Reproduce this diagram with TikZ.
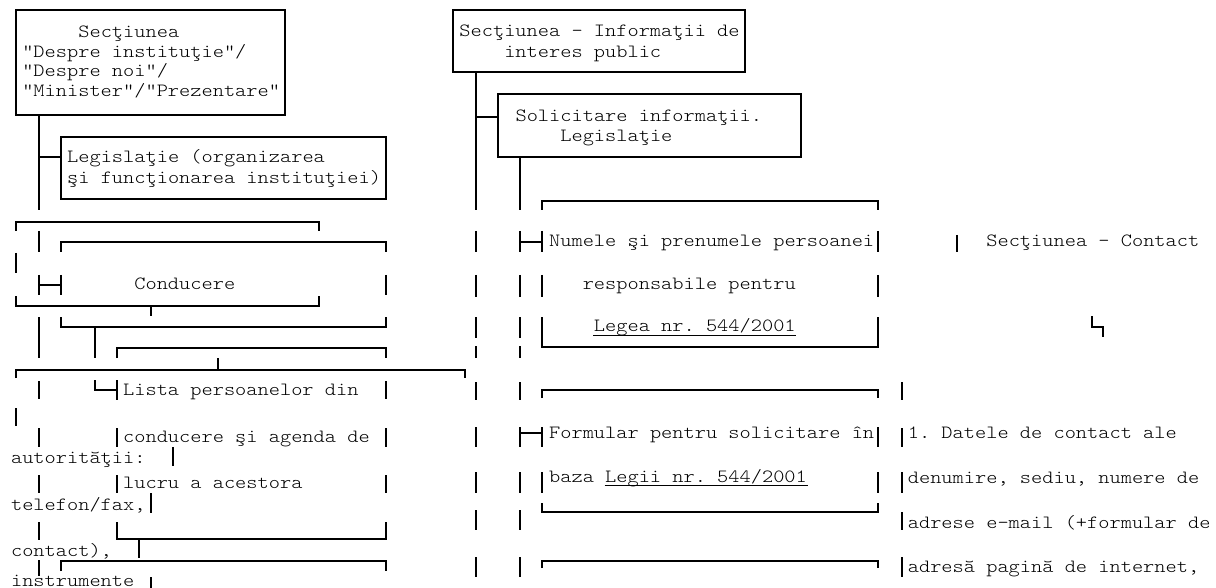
\documentclass[tikz,border=0pt]{standalone}
\usepackage{fontspec}
\setmonofont[FakeStretch=1.1429]{lmmonolt10-regular.otf}
\usepackage{tikz}
\usetikzlibrary{calc}

\begin{document}
\begin{tikzpicture}[x=1pt,y=-1pt,line width=1.3pt,
  txt/.style={font=\ttfamily\fontsize{18.68}{21}\selectfont,inner sep=0pt,anchor=base west},
  uline/.style={line width=1pt}]
\useasboundingbox (0,0) rectangle (1216,588);
				%COLONNE GAUCHE
				\draw (16,10) rectangle (285,115);
				\node[txt] (desp1) at (77.7,37.3) {Secţiunea};
				\node[txt] (desp2) at (21.6,57.3) {"Despre instituţie"/};
				\node[txt] (desp3) at (21.6,77) {"Despre noi"/};
				\node[txt] (desp4) at (21.6,96.8) {"Minister"/"Prezentare"};
				\draw (39,115) -- (39,210) (39,157) -- (61,157);
				\draw (61,137) rectangle (386,199);
				\node[txt] (leg1) at (66.5,162.5) {Legislaţie (organizarea};
				\node[txt] (leg2) at (66.5,184) {şi funcţionarea instituţiei)};
				%CONDUCERE
				\draw (16,231) -- (16,222) -- (319,222) -- (319,231)
					(16,253) -- (16,273)
					(16,296) -- (16,306) -- (319,306) -- (319,296) (151,306) -- (151,316);
				\draw (61,252) -- (61,242) -- (386,242) -- (386,252)
					(61,275) -- (61,295) (386,275) -- (386,295) (39,285) -- (61,285)
					(61,317) -- (61,327) -- (386,327) -- (386,317) (95,327) -- (95,358);
				\node[txt] (cond) at (133.7,290) {Conducere};
				\foreach \a/\b in {231/252,275/295,317/358,381/399,428/447,475/493,522/540,560/576}
					\draw (39,\a) -- (39,\b);
				%LISTA
				\draw (117,358) -- (117,348) -- (386,348) -- (386,358)
					(95,380) -- (95,390) -- (117,390) (117,380) -- (117,400) (386,381) -- (386,399)
					(117,428) -- (117,447) (386,428) -- (386,447) (117,475) -- (117,493) (386,475) -- (386,493)
					(117,522) -- (117,539) -- (386,539) -- (386,522);
				\draw (16,378) -- (16,370) -- (465,370) -- (465,378) (218,370) -- (218,358)
					(16,408) -- (16,426);
				\node[txt] (lista1) at (122.5,395) {Lista persoanelor din};
				\node[txt] (lista2) at (122.5,442) {conducere şi agenda de};
				\node[txt] (lista3) at (122.5,488) {lucru a acestora};
				\draw (61,571) -- (61,561) -- (386,561) -- (386,571);
				%RANDURI RUPTE
				\node[txt] (rup1) at (10.4,463) {autorităţii:};
				\node[txt] (rup2) at (10.4,510) {telefon/fax,};
				\node[txt] (rup3) at (10.4,556) {contact),};
				\node[txt] (rup4) at (10.4,586) {instrumente};
				\draw (173,447) -- (173,466) (151,493) -- (151,513) (139,540) -- (139,558) (151,577) -- (151,588);
				%COLOANA INFORMATII
				\draw (453,10) rectangle (745,72);
				\node[txt] (info1) at (458.8,37) {Secţiunea - Informaţii de};
				\node[txt] (info2) at (503.6,57.5) {interes public};
				\draw (476,72) -- (476,210) (476,117) -- (498,117);
				\draw (498,94) rectangle (801,157);
				\node[txt] (sol1) at (514.9,122) {Solicitare informaţii.};
				\node[txt] (sol2) at (559.7,142) {Legislaţie};
				\draw (520,157) -- (520,210);
				\foreach \a/\b in {231/252,275/297,317/338,346/358,382/400,427/447,472/493,510/530,557/577}
					\draw (476,\a) -- (476,\b) (520,\a) -- (520,\b);
				%RESPONSABIL
				\draw (542,210) -- (542,201) -- (878,201) -- (878,210)
					(520,242) -- (542,242) (542,231) -- (542,252) (878,231) -- (878,252)
					(542,275) -- (542,297) (878,275) -- (878,297)
					(542,317) -- (542,347) -- (878,347) -- (878,317);
				\node[txt] (resp1) at (548.5,247) {Numele şi prenumele persoanei};
				\node[txt] (resp2) at (582.1,290) {responsabile pentru};
				\node[txt] (resp3) at (593.3,331) {Legea nr. 544/2001};
				\draw[uline] ($(resp3.base west)+(0,4)$) -- ($(resp3.base east)+(0,4)$);
				%FORMULAR
				\draw (542,398) -- (542,390) -- (878,390) -- (878,398)
					(520,433) -- (542,433) (542,427) -- (542,447) (878,427) -- (878,447)
					(542,472) -- (542,493) (878,472) -- (878,493)
					(542,503) -- (542,512) -- (878,512) -- (878,503)
					(542,568) -- (542,561) -- (878,561) -- (878,568);
				\node[txt] (form1) at (548.5,438) {Formular pentru solicitare în};
				\node[txt] (form2) at (548.5,482) {baza};
				\node[txt] (form3) at (604.5,482) {Legii nr. 544/2001};
				\draw[uline] ($(form3.base west)+(0,3)$) -- ($(form3.base east)+(0,3)$);
				%CONTACT
				\draw (957,235) -- (957,252)
					(1092,316) -- (1092,327) -- (1103,327) -- (1103,337);
				\node[txt] (cont) at (985.7,247) {Secţiunea - Contact};
				\foreach \a/\b in {382/400,428/447,472/493,512/530,557/577}
					\draw (902,\a) -- (902,\b);
				\node[txt] (cont1) at (907.2,438) {1. Datele de contact ale};
				\node[txt] (cont2) at (907.2,483) {denumire, sediu, numere de};
				\node[txt] (cont3) at (907.2,528) {adrese e-mail (+formular de};
				\node[txt] (cont4) at (907.2,572) {adresă pagină de internet,};
\end{tikzpicture}
\end{document}
